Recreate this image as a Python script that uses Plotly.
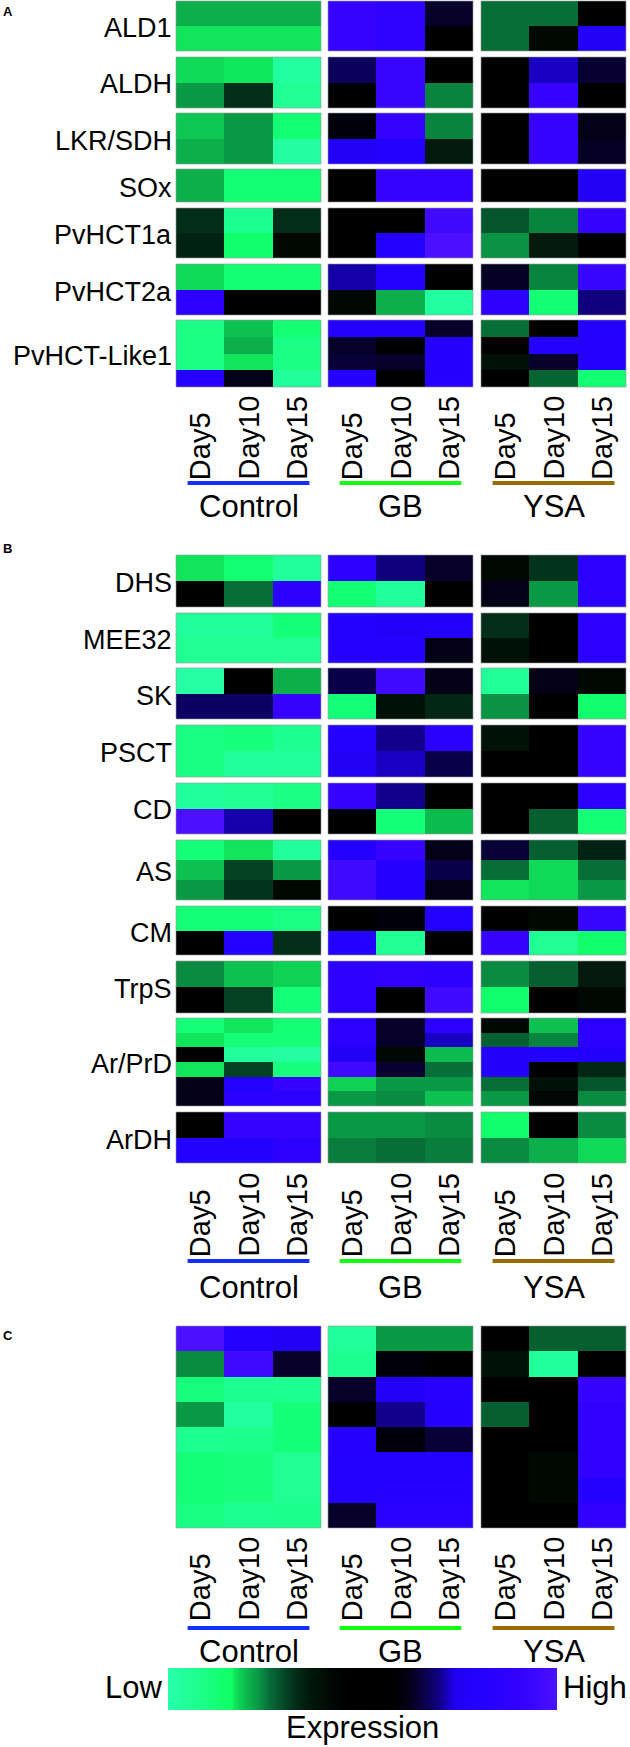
import plotly.graph_objects as go

# ---- data -----------------------------------------------------------------
days = ["Day5", "Day10", "Day15"]
treatments = ["Control", "GB", "YSA"]

# relative expression (0 = low, 1 = high); each row holds
# Control Day5/10/15, GB Day5/10/15, YSA Day5/10/15
ALD1 = [
    [0.21, 0.21, 0.21, 0.92, 0.88, 0.635, 0.26, 0.26, 0.50],
    [0.172, 0.172, 0.172, 0.92, 0.88, 0.50, 0.26, 0.42, 0.76],
]
ALDH = [
    [0.18, 0.17, 0.03, 0.67, 0.93, 0.50, 0.50, 0.72, 0.64],
    [0.23, 0.33, 0.06, 0.50, 0.93, 0.245, 0.50, 0.92, 0.50],
]
LKR_SDH = [
    [0.19, 0.23, 0.13, 0.60, 0.92, 0.245, 0.50, 0.92, 0.615],
    [0.21, 0.23, 0.02, 0.76, 0.80, 0.36, 0.50, 0.92, 0.63],
]
SOX = [
    [0.21, 0.13, 0.13, 0.50, 0.92, 0.92, 0.50, 0.50, 0.75],
]
PVHCT1A = [
    [0.33, 0.07, 0.33, 0.50, 0.50, 0.96, 0.285, 0.245, 0.92],
    [0.345, 0.15, 0.42, 0.50, 0.80, 1.00, 0.235, 0.36, 0.50],
]
PVHCT2A = [
    [0.18, 0.13, 0.13, 0.71, 0.80, 0.50, 0.63, 0.245, 0.93],
    [0.86, 0.50, 0.50, 0.42, 0.21, 0.03, 0.86, 0.13, 0.69],
]
PVHCT_LIKE1 = [
    [0.09, 0.195, 0.13, 0.80, 0.80, 0.635, 0.26, 0.50, 0.82],
    [0.09, 0.21, 0.09, 0.635, 0.50, 0.82, 0.50, 0.80, 0.82],
    [0.09, 0.172, 0.09, 0.645, 0.635, 0.82, 0.39, 0.635, 0.82],
    [0.82, 0.615, 0.04, 0.82, 0.50, 0.82, 0.50, 0.27, 0.13],
]

DHS = [
    [0.172, 0.13, 0.04, 0.86, 0.69, 0.635, 0.42, 0.32, 0.86],
    [0.50, 0.26, 0.86, 0.13, 0.04, 0.50, 0.615, 0.23, 0.86],
]
MEE32 = [
    [0.04, 0.04, 0.12, 0.80, 0.77, 0.77, 0.33, 0.50, 0.86],
    [0.06, 0.06, 0.06, 0.82, 0.82, 0.615, 0.39, 0.50, 0.86],
]
SK = [
    [0.01, 0.50, 0.21, 0.66, 0.96, 0.615, 0.05, 0.615, 0.42],
    [0.675, 0.675, 0.92, 0.12, 0.39, 0.34, 0.235, 0.50, 0.15],
]
PSCT = [
    [0.10, 0.11, 0.07, 0.80, 0.70, 0.85, 0.39, 0.50, 0.92],
    [0.10, 0.04, 0.04, 0.75, 0.72, 0.66, 0.50, 0.50, 0.92],
]
CD = [
    [0.04, 0.06, 0.09, 0.92, 0.70, 0.50, 0.50, 0.50, 0.86],
    [1.00, 0.712, 0.50, 0.50, 0.12, 0.20, 0.50, 0.275, 0.13],
]
AS = [
    [0.12, 0.172, 0.04, 0.80, 0.92, 0.615, 0.645, 0.275, 0.345],
    [0.195, 0.305, 0.23, 0.96, 0.82, 0.66, 0.26, 0.18, 0.26],
    [0.23, 0.32, 0.42, 0.96, 0.82, 0.615, 0.172, 0.18, 0.23],
]
CM = [
    [0.12, 0.12, 0.09, 0.50, 0.60, 0.80, 0.50, 0.42, 0.93],
    [0.50, 0.80, 0.33, 0.80, 0.06, 0.50, 0.92, 0.06, 0.15],
]
TRPS = [
    [0.24, 0.195, 0.185, 0.86, 0.90, 0.87, 0.24, 0.275, 0.36],
    [0.50, 0.305, 0.12, 0.86, 0.50, 0.96, 0.15, 0.50, 0.42],
]
AR_PRD = [
    [0.12, 0.172, 0.13, 0.86, 0.635, 0.86, 0.42, 0.195, 0.86],
    [0.172, 0.12, 0.12, 0.86, 0.635, 0.72, 0.275, 0.245, 0.86],
    [0.50, 0.04, 0.02, 0.76, 0.42, 0.20, 0.78, 0.78, 0.78],
    [0.172, 0.305, 0.11, 0.96, 0.64, 0.26, 0.78, 0.50, 0.34],
    [0.615, 0.80, 0.92, 0.185, 0.23, 0.23, 0.26, 0.39, 0.285],
    [0.615, 0.85, 0.86, 0.23, 0.24, 0.195, 0.23, 0.43, 0.24],
]
ARDH = [
    [0.50, 0.92, 0.92, 0.23, 0.23, 0.24, 0.15, 0.50, 0.24],
    [0.80, 0.80, 0.86, 0.25, 0.26, 0.25, 0.24, 0.21, 0.18],
]

PANEL_C = [
    [1.00, 0.80, 0.76, 0.04, 0.23, 0.23, 0.50, 0.275, 0.275],
    [0.24, 0.96, 0.635, 0.07, 0.60, 0.50, 0.39, 0.04, 0.50],
    [0.11, 0.07, 0.07, 0.635, 0.76, 0.84, 0.50, 0.50, 0.92],
    [0.23, 0.03, 0.12, 0.50, 0.70, 0.82, 0.275, 0.50, 0.90],
    [0.07, 0.08, 0.12, 0.82, 0.60, 0.645, 0.50, 0.50, 0.90],
    [0.12, 0.11, 0.06, 0.80, 0.80, 0.80, 0.50, 0.42, 0.90],
    [0.12, 0.11, 0.06, 0.80, 0.82, 0.82, 0.50, 0.42, 0.80],
    [0.10, 0.07, 0.08, 0.635, 0.85, 0.85, 0.50, 0.50, 0.90],
]

panel_a_genes = ["ALD1", "ALDH", "LKR/SDH", "SOx", "PvHCT1a", "PvHCT2a", "PvHCT-Like1"]
panel_a_values = [ALD1, ALDH, LKR_SDH, SOX, PVHCT1A, PVHCT2A, PVHCT_LIKE1]
panel_b_genes = ["DHS", "MEE32", "SK", "PSCT", "CD", "AS", "CM", "TrpS", "Ar/PrD", "ArDH"]
panel_b_values = [DHS, MEE32, SK, PSCT, CD, AS, CM, TRPS, AR_PRD, ARDH]
panel_c_genes = [""]
panel_c_values = [PANEL_C]

# ---- layout (pixel geometry of the figure) ----------------------------------
W, H = 630, 1747
FONT = "Liberation Sans, Arial, sans-serif"

block_x = [(176, 321), (328, 473), (481, 626)]
underline_colors = ["#1230FF", "#14FF14", "#9A6C00"]

panels = [
    dict(letter="A", letter_y=11, genes=panel_a_genes, values=panel_a_values,
         spans=[(1, 51), (57, 108), (113, 164), (169, 202), (208, 258), (264, 315), (320, 387)],
         day_bottom=480, line_y=483, group_y=507),
    dict(letter="B", letter_y=548, genes=panel_b_genes, values=panel_b_values,
         spans=[(555, 607), (613, 663), (668, 719), (725, 777), (783, 834),
                (840, 900), (906, 955), (961, 1013), (1018, 1106), (1112, 1163)],
         day_bottom=1257, line_y=1261, group_y=1287),
    dict(letter="C", letter_y=1335, genes=panel_c_genes, values=panel_c_values,
         spans=[(1326, 1528)],
         day_bottom=1621, line_y=1628, group_y=1651),
]

colorscale = [
    [0.000, "#26FFAA"], [0.080, "#1CFF8C"], [0.165, "#10FF64"],
    [0.170, "#10E85C"], [0.200, "#0CBA4E"], [0.230, "#0A9A46"],
    [0.260, "#076E37"], [0.290, "#05502A"], [0.320, "#03331C"],
    [0.360, "#011A0D"], [0.420, "#000804"], [0.460, "#000000"],
    [0.580, "#000000"], [0.620, "#040018"], [0.660, "#0A004A"],
    [0.700, "#12008C"], [0.725, "#1A00D0"], [0.740, "#2000F0"],
    [0.800, "#2400FF"], [0.900, "#3000FF"], [1.000, "#4A10FF"],
]


def fx(px):
    return px / W


def fy(px):
    return 1 - px / H


def ax_name(letter, i):
    return letter if i == 1 else f"{letter}{i}"


def ax_key(letter, i):
    return f"{letter}axis" if i == 1 else f"{letter}axis{i}"


fig = go.Figure()
layout_axes = {}
annotations = []
shapes = []

xi = 0
yi = 0
for panel in panels:
    x_ids = []
    for t, (x0, x1) in enumerate(block_x):
        xi += 1
        x_ids.append(xi)
        layout_axes[ax_key("x", xi)] = dict(domain=[fx(x0), fx(x1)], visible=False,
                                            fixedrange=True)

    for gene, rows, (top, bottom) in zip(panel["genes"], panel["values"], panel["spans"]):
        yi += 1
        layout_axes[ax_key("y", yi)] = dict(domain=[fy(bottom), fy(top)], visible=False,
                                            autorange="reversed", fixedrange=True)
        for t, xid in enumerate(x_ids):
            z = [row[3 * t:3 * t + 3] for row in rows]
            fig.add_trace(go.Heatmap(
                z=z, x=days, y=list(range(len(z))),
                xaxis=ax_name("x", xid), yaxis=ax_name("y", yi),
                coloraxis="coloraxis", hoverinfo="skip",
            ))
            # faint frame round each block
            shapes.append(dict(
                type="rect", xref=f"{ax_name('x', xid)} domain", x0=0, x1=1,
                yref=f"{ax_name('y', yi)} domain", y0=0, y1=1,
                line=dict(color="rgba(150,150,150,0.6)", width=1),
            ))
        if gene:
            annotations.append(dict(
                text=gene, xref="paper", x=fx(174), xanchor="right",
                yref=f"{ax_name('y', yi)} domain", y=0.5, yanchor="middle", yshift=-2,
                showarrow=False, font=dict(size=27, color="black", family=FONT),
            ))

    # day labels, coloured underlines and treatment names
    for t, xid in enumerate(x_ids):
        for d in days:
            annotations.append(dict(
                text=d, xref=ax_name("x", xid), x=d, xanchor="center",
                yref="paper", y=fy(panel["day_bottom"] + 2), yanchor="bottom",
                textangle=-90, showarrow=False,
                font=dict(size=29, color="black", family=FONT),
            ))
        shapes.append(dict(
            type="line", xref=ax_name("x", xid), x0=-0.26, x1=2.26,
            yref="paper", y0=fy(panel["line_y"]), y1=fy(panel["line_y"]),
            line=dict(color=underline_colors[t], width=4),
        ))
        annotations.append(dict(
            text=treatments[t], xref=f"{ax_name('x', xid)} domain", x=0.5, xanchor="center",
            yref="paper", y=fy(panel["group_y"]), yanchor="middle",
            showarrow=False, font=dict(size=31, color="black", family=FONT),
        ))

    annotations.append(dict(
        text=f"<b>{panel['letter']}</b>", xref="paper", x=fx(1), xanchor="left",
        yref="paper", y=fy(panel["letter_y"]), yanchor="middle",
        showarrow=False, font=dict(size=13, color="black", family=FONT),
    ))

# colour key labels
annotations += [
    dict(text="Low", xref="paper", x=fx(164), xanchor="right", yref="paper",
         y=fy(1687), yanchor="middle", showarrow=False,
         font=dict(size=31, color="black", family=FONT)),
    dict(text="High", xref="paper", x=fx(561), xanchor="left", yref="paper",
         y=fy(1687), yanchor="middle", showarrow=False,
         font=dict(size=31, color="black", family=FONT)),
    dict(text="Expression", xref="paper", x=fx(363), xanchor="center", yref="paper",
         y=fy(1727), yanchor="middle", showarrow=False,
         font=dict(size=31, color="black", family=FONT)),
]

fig.update_layout(
    width=W, height=H,
    margin=dict(l=0, r=0, t=0, b=0),
    paper_bgcolor="white", plot_bgcolor="white",
    showlegend=False,
    font=dict(family=FONT, color="black"),
    coloraxis=dict(
        colorscale=colorscale, cmin=0, cmax=1,
        colorbar=dict(
            orientation="h", lenmode="pixels", len=389,
            thicknessmode="pixels", thickness=42,
            x=fx(168), xanchor="left", y=fy(1668), yanchor="top",
            xpad=0, ypad=0, outlinewidth=0,
            showticklabels=False, ticks="",
        ),
    ),
    annotations=annotations,
    shapes=shapes,
    **layout_axes,
)

# drop the default page margin so the figure fills the window exactly
fig.write_html("out.html", config={"displayModeBar": False},
               post_script="document.body.style.margin='0';")
